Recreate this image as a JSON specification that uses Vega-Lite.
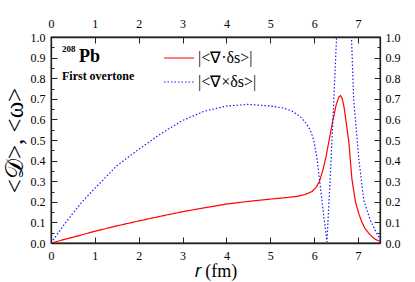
{
  "$schema": "https://vega.github.io/schema/vega-lite/v6.json",
  "width": 329,
  "height": 206,
  "autosize": {"type": "none"},
  "padding": {"left": 51, "top": 37, "right": 35, "bottom": 39},
  "background": "white",
  "config": {
    "view": {"stroke": "#222", "strokeWidth": 1.3}
  },
  "datasets": {
    "curves": [
      {"series": "|<∇·δs>|", "r": 0, "v": 0},
      {"series": "|<∇·δs>|", "r": 0.5, "v": 0.028},
      {"series": "|<∇·δs>|", "r": 1, "v": 0.057},
      {"series": "|<∇·δs>|", "r": 1.5, "v": 0.083},
      {"series": "|<∇·δs>|", "r": 2, "v": 0.107},
      {"series": "|<∇·δs>|", "r": 2.5, "v": 0.13},
      {"series": "|<∇·δs>|", "r": 3, "v": 0.152},
      {"series": "|<∇·δs>|", "r": 3.5, "v": 0.171},
      {"series": "|<∇·δs>|", "r": 4, "v": 0.189},
      {"series": "|<∇·δs>|", "r": 4.5, "v": 0.202},
      {"series": "|<∇·δs>|", "r": 5, "v": 0.213},
      {"series": "|<∇·δs>|", "r": 5.3, "v": 0.219},
      {"series": "|<∇·δs>|", "r": 5.6, "v": 0.226},
      {"series": "|<∇·δs>|", "r": 5.8, "v": 0.236},
      {"series": "|<∇·δs>|", "r": 5.95, "v": 0.25},
      {"series": "|<∇·δs>|", "r": 6.05, "v": 0.272},
      {"series": "|<∇·δs>|", "r": 6.12, "v": 0.3},
      {"series": "|<∇·δs>|", "r": 6.2, "v": 0.355},
      {"series": "|<∇·δs>|", "r": 6.27, "v": 0.42},
      {"series": "|<∇·δs>|", "r": 6.35, "v": 0.51},
      {"series": "|<∇·δs>|", "r": 6.42, "v": 0.59},
      {"series": "|<∇·δs>|", "r": 6.5, "v": 0.67},
      {"series": "|<∇·δs>|", "r": 6.56, "v": 0.708},
      {"series": "|<∇·δs>|", "r": 6.6, "v": 0.716},
      {"series": "|<∇·δs>|", "r": 6.64, "v": 0.7},
      {"series": "|<∇·δs>|", "r": 6.68, "v": 0.66},
      {"series": "|<∇·δs>|", "r": 6.72, "v": 0.6},
      {"series": "|<∇·δs>|", "r": 6.79, "v": 0.49},
      {"series": "|<∇·δs>|", "r": 6.86, "v": 0.31},
      {"series": "|<∇·δs>|", "r": 6.94, "v": 0.2},
      {"series": "|<∇·δs>|", "r": 7.02, "v": 0.14},
      {"series": "|<∇·δs>|", "r": 7.09, "v": 0.1},
      {"series": "|<∇·δs>|", "r": 7.16, "v": 0.07},
      {"series": "|<∇·δs>|", "r": 7.24, "v": 0.048},
      {"series": "|<∇·δs>|", "r": 7.32, "v": 0.03},
      {"series": "|<∇·δs>|", "r": 7.4, "v": 0.017},
      {"series": "|<∇·δs>|", "r": 7.5, "v": 0.008},
      {"series": "|<∇×δs>|", "r": 0, "v": 0},
      {"series": "|<∇×δs>|", "r": 0.25, "v": 0.075},
      {"series": "|<∇×δs>|", "r": 0.5, "v": 0.145},
      {"series": "|<∇×δs>|", "r": 0.75, "v": 0.21},
      {"series": "|<∇×δs>|", "r": 1, "v": 0.265},
      {"series": "|<∇×δs>|", "r": 1.5, "v": 0.375},
      {"series": "|<∇×δs>|", "r": 2, "v": 0.455},
      {"series": "|<∇×δs>|", "r": 2.5, "v": 0.53},
      {"series": "|<∇×δs>|", "r": 3, "v": 0.595},
      {"series": "|<∇×δs>|", "r": 3.5, "v": 0.64},
      {"series": "|<∇×δs>|", "r": 4, "v": 0.665},
      {"series": "|<∇×δs>|", "r": 4.5, "v": 0.673},
      {"series": "|<∇×δs>|", "r": 5, "v": 0.665},
      {"series": "|<∇×δs>|", "r": 5.3, "v": 0.655},
      {"series": "|<∇×δs>|", "r": 5.5, "v": 0.64},
      {"series": "|<∇×δs>|", "r": 5.68, "v": 0.614},
      {"series": "|<∇×δs>|", "r": 5.8, "v": 0.585},
      {"series": "|<∇×δs>|", "r": 5.91, "v": 0.549},
      {"series": "|<∇×δs>|", "r": 5.99, "v": 0.5},
      {"series": "|<∇×δs>|", "r": 6.07, "v": 0.403},
      {"series": "|<∇×δs>|", "r": 6.14, "v": 0.273},
      {"series": "|<∇×δs>|", "r": 6.22, "v": 0.127},
      {"series": "|<∇×δs>|", "r": 6.29, "v": 0.005},
      {"series": "|<∇×δs>|", "r": 6.37, "v": 0.338},
      {"series": "|<∇×δs>|", "r": 6.44, "v": 0.662},
      {"series": "|<∇×δs>|", "r": 6.51, "v": 1.0},
      {"series": "|<∇×δs>|", "r": 6.6, "v": 1.3},
      {"series": "|<∇×δs>|", "r": 6.76, "v": 1.3},
      {"series": "|<∇×δs>|", "r": 6.85, "v": 1.0},
      {"series": "|<∇×δs>|", "r": 6.9, "v": 0.695},
      {"series": "|<∇×δs>|", "r": 7.02, "v": 0.403},
      {"series": "|<∇×δs>|", "r": 7.13, "v": 0.208},
      {"series": "|<∇×δs>|", "r": 7.28, "v": 0.11},
      {"series": "|<∇×δs>|", "r": 7.43, "v": 0.045},
      {"series": "|<∇×δs>|", "r": 7.5, "v": 0.02}
    ],
    "notes": [
      {"kind": "sup", "label": "208", "r": 0.25, "v": 0.927},
      {"kind": "el", "label": "Pb", "r": 0.64, "v": 0.877},
      {"kind": "sub", "label": "First overtone", "r": 0.25, "v": 0.79}
    ]
  },
  "resolve": {"scale": {"x": "independent", "y": "independent"}},
  "layer": [
    {
      "data": {"name": "curves"},
      "mark": {"type": "line", "strokeWidth": 1.2, "clip": true},
      "encoding": {
        "x": {
          "field": "r", "type": "quantitative",
          "scale": {"domain": [0, 7.5], "nice": false, "zero": false},
          "axis": {
            "orient": "bottom",
            "values": [0, 0.5, 1, 1.5, 2, 2.5, 3, 3.5, 4, 4.5, 5, 5.5, 6, 6.5, 7, 7.5],
            "labelExpr": "round(datum.value*2) % 2 == 0 ? datum.label : ''",
            "format": "d",
            "labelFlush": false,
            "labelOverlap": false,
            "labelFont": "Liberation Serif", "labelFontSize": 12, "labelColor": "black",
            "domainColor": "#222", "domainWidth": 1.3, "tickColor": "#222", "tickWidth": 1, "grid": false,
            "tickSize": {"condition": {"test": "round(datum.value*2) % 2 != 0", "value": -3}, "value": -6},
            "labelPadding": 13,
            "title": "𝑟 (fm)",
            "titleFont": "Liberation Serif", "titleFontSize": 18, "titleFontWeight": "normal", "titleColor": "black",
            "titlePadding": 1
          }
        },
        "y": {
          "field": "v", "type": "quantitative",
          "scale": {"domain": [0, 1], "nice": false},
          "axis": {
            "orient": "left",
            "values": [0, 0.05, 0.1, 0.15, 0.2, 0.25, 0.3, 0.35, 0.4, 0.45, 0.5, 0.55, 0.6, 0.65, 0.7, 0.75, 0.8, 0.85, 0.9, 0.95, 1],
            "format": ".1f",
            "labelExpr": "round(datum.value*20) % 2 == 0 ? datum.label : ''",
            "labelFlush": false,
            "labelOverlap": false,
            "labelFont": "Liberation Serif", "labelFontSize": 12, "labelColor": "black",
            "domainColor": "#222", "domainWidth": 1.3, "tickColor": "#222", "tickWidth": 1, "grid": false,
            "tickSize": {"condition": {"test": "round(datum.value*20) % 2 != 0", "value": -3}, "value": -6},
            "labelPadding": 12,
            "title": "<𝒟>, <ω>",
            "titleFont": "Liberation Serif", "titleFontSize": 25, "titleFontWeight": "normal", "titleColor": "black",
            "titlePadding": 3
          }
        },
        "color": {
          "field": "series", "type": "nominal",
          "scale": {"domain": ["|<∇·δs>|", "|<∇×δs>|"], "range": ["#ff0000", "#1a1aff"]},
          "legend": {
            "orient": "none", "legendX": 112, "legendY": 5, "title": null,
            "symbolType": "stroke", "symbolSize": 900, "symbolStrokeWidth": 1.2,
            "labelFont": "Liberation Serif", "labelFontSize": 16, "labelColor": "black",
            "labelLimit": 300, "rowPadding": -12, "labelOffset": 3
          }
        },
        "strokeDash": {
          "field": "series", "type": "nominal",
          "scale": {"domain": ["|<∇·δs>|", "|<∇×δs>|"], "range": [[1, 0], [1.5, 2]]},
          "legend": {
            "orient": "none", "legendX": 112, "legendY": 5, "title": null,
            "symbolType": "stroke", "symbolSize": 900, "symbolStrokeWidth": 1.2,
            "labelFont": "Liberation Serif", "labelFontSize": 16, "labelColor": "black",
            "labelLimit": 300, "rowPadding": -12, "labelOffset": 3
          }
        }
      }
    },
    {
      "data": {"name": "notes"},
      "transform": [{"filter": "datum.kind == 'sup'"}],
      "mark": {"type": "text", "font": "Liberation Serif", "fontWeight": "bold", "fontSize": 9, "align": "left", "baseline": "alphabetic", "color": "black"},
      "encoding": {
        "x": {
          "field": "r", "type": "quantitative",
          "scale": {"domain": [0, 7.5], "nice": false, "zero": false},
          "axis": {
            "orient": "top",
            "values": [0, 0.5, 1, 1.5, 2, 2.5, 3, 3.5, 4, 4.5, 5, 5.5, 6, 6.5, 7, 7.5],
            "labelExpr": "round(datum.value*2) % 2 == 0 ? datum.label : ''",
            "format": "d",
            "labelFlush": false,
            "labelOverlap": false,
            "labelFont": "Liberation Serif", "labelFontSize": 12, "labelColor": "black",
            "domainColor": "#222", "domainWidth": 1.3, "tickColor": "#222", "tickWidth": 1, "grid": false,
            "tickSize": {"condition": {"test": "round(datum.value*2) % 2 != 0", "value": -3}, "value": -6},
            "labelPadding": 13,
            "title": null
          }
        },
        "y": {
          "field": "v", "type": "quantitative",
          "scale": {"domain": [0, 1], "nice": false},
          "axis": {
            "orient": "right",
            "values": [0, 0.05, 0.1, 0.15, 0.2, 0.25, 0.3, 0.35, 0.4, 0.45, 0.5, 0.55, 0.6, 0.65, 0.7, 0.75, 0.8, 0.85, 0.9, 0.95, 1],
            "format": ".1f",
            "labelExpr": "round(datum.value*20) % 2 == 0 ? datum.label : ''",
            "labelFlush": false,
            "labelOverlap": false,
            "labelFont": "Liberation Serif", "labelFontSize": 12, "labelColor": "black",
            "domainColor": "#222", "domainWidth": 1.3, "tickColor": "#222", "tickWidth": 1, "grid": false,
            "tickSize": {"condition": {"test": "round(datum.value*20) % 2 != 0", "value": -3}, "value": -6},
            "labelPadding": 11,
            "title": null
          }
        },
        "text": {"field": "label"}
      }
    },
    {
      "data": {"name": "notes"},
      "transform": [{"filter": "datum.kind == 'el'"}],
      "mark": {"type": "text", "font": "Liberation Serif", "fontWeight": "bold", "fontSize": 18, "align": "left", "baseline": "alphabetic", "color": "black"},
      "encoding": {
        "x": {"field": "r", "type": "quantitative", "scale": {"domain": [0, 7.5], "nice": false, "zero": false}, "axis": null},
        "y": {"field": "v", "type": "quantitative", "scale": {"domain": [0, 1], "nice": false}, "axis": null},
        "text": {"field": "label"}
      }
    },
    {
      "data": {"name": "notes"},
      "transform": [{"filter": "datum.kind == 'sub'"}],
      "mark": {"type": "text", "font": "Liberation Serif", "fontWeight": "bold", "fontSize": 12, "align": "left", "baseline": "alphabetic", "color": "black"},
      "encoding": {
        "x": {"field": "r", "type": "quantitative", "scale": {"domain": [0, 7.5], "nice": false, "zero": false}, "axis": null},
        "y": {"field": "v", "type": "quantitative", "scale": {"domain": [0, 1], "nice": false}, "axis": null},
        "text": {"field": "label"}
      }
    }
  ]
}
